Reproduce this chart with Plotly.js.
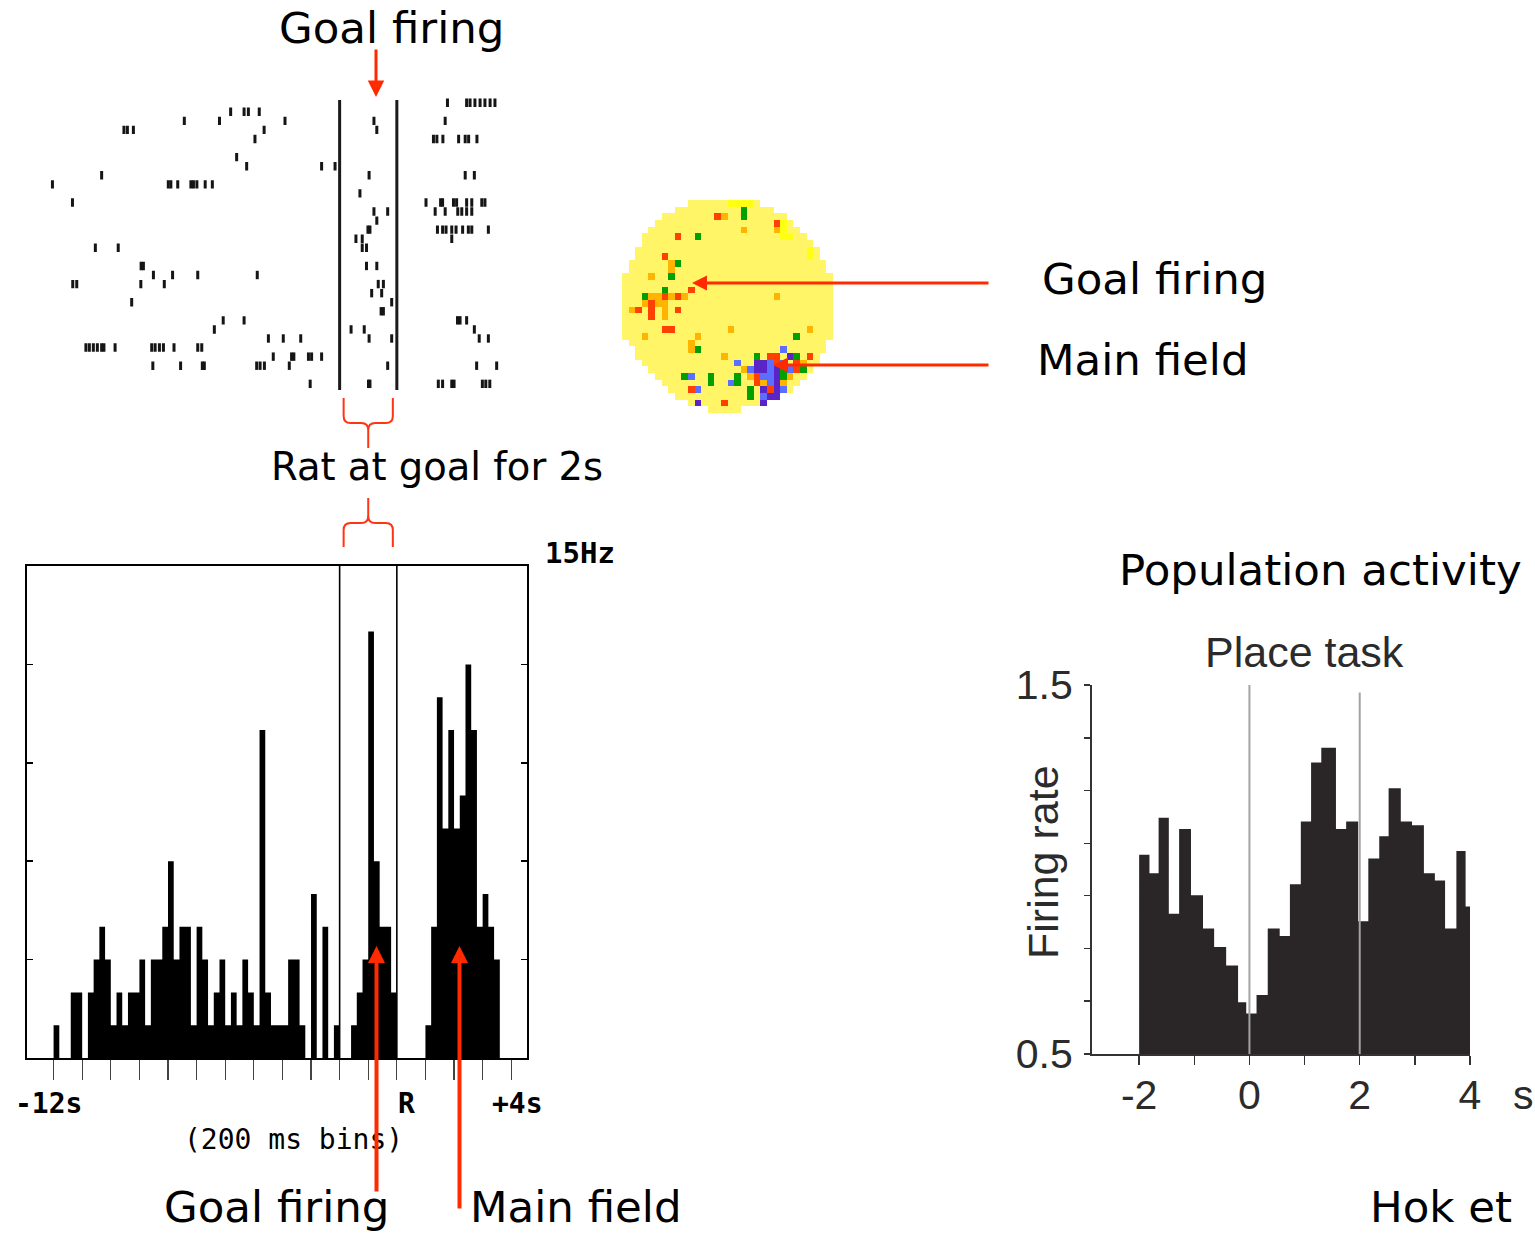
<!DOCTYPE html>
<html>
<head>
<meta charset="utf-8">
<script src="https://cdn.plot.ly/plotly-3.0.1.min.js"></script>
<style>
html,body{margin:0;padding:0;background:#ffffff;}
#chart{width:1535px;height:1237px;}
</style>
</head>
<body>
<div id="chart"></div>
<script>
// ---------------- DATA ----------------
// Goal period (s, relative to R)
const GOAL_START = -2;
const GOAL_END = 0;

// Single-cell peri-event histogram, 200 ms bins starting at -13.0 s (Hz)
const HIST_START = -13.0;
const HIST_BIN = 0.2;
const HIST_RATE = [
  0,0,0,0,0, 1,0,0,2,2, 0,2,3,4,3, 1,2,1,2,2,
  3,1,3,3,4, 6,3,4,4,1, 4,3,1,2,3, 1,2,1,3,2,
  1,10,2,1,1, 1,3,3,1,0, 5,0,4,0,1, 0,0,1,2,3,
  13,6,4,4,2, 0,0,0,0,0, 1,4,11,7,10, 7,8,12,10,4,
  5,4,3,0,0, 0,0,0
];
const HIST_TICKS = [-12,-11,-10,-9,-8,-7,-6,-5,-4,-3,-2,-1,0,1,2,3,4];
const HIST_YTICKS = [3,6,9,12];
const HIST_YMAX = 15;

// Spike raster: one list of spike times (s) per trial (top to bottom)
const RASTER = [
  [1.77,2.44,2.56,2.73,2.91,3.08,3.26,3.43],
  [-5.81,-5.34,-5.19,-4.81],
  [-7.43,-6.20,-3.91,-0.80,1.69],
  [-9.54,-9.42,-9.21,-4.64,-0.70],
  [-4.96,1.28,1.40,1.61,2.16,2.39,2.51,2.80],
  [],
  [-5.60],
  [-5.25,-2.63,-2.16],
  [-10.32,-0.97,2.39,2.71],
  [-12.04,-7.99,-7.90,-7.66,-7.20,-7.11,-6.99,-6.70,-6.45],
  [-1.29],
  [-11.34,1.02,1.53,1.60,1.98,2.09,2.44,2.62,2.97,3.08],
  [-0.80,-0.32,1.34,1.69,2.13,2.27,2.44,2.62],
  [-0.70],
  [-1.01,-0.94,1.42,1.60,1.72,1.92,2.07,2.30,2.50,2.62,3.20],
  [-1.43,-1.21,1.92],
  [-10.54,-9.74,-1.21,-1.06],
  [],
  [-8.94,-8.86,-1.06,-0.70],
  [-8.51,-7.84,-6.96,-4.88],
  [-11.33,-11.19,-8.95,-8.13,-0.65,-0.47],
  [-0.88,-0.53],
  [-9.27,-0.18],
  [-0.55,-0.47],
  [-6.07,-5.34,2.12,2.21,2.44],
  [-6.38,-1.60,-1.14,2.71],
  [-4.49,-3.97,-3.36,-0.97,-0.18,2.88,3.20],
  [-10.87,-10.75,-10.61,-10.47,-10.32,-10.24,-9.85,-8.57,-8.45,-8.30,-8.16,-7.79,-6.96,-6.82],
  [-4.32,-3.68,-3.60,-3.09,-2.98,-2.63],
  [-8.53,-7.56,-6.80,-6.73,-4.90,-4.78,-4.63,-3.76,-0.32,2.79,3.49],
  [],
  [-3.03,-0.99,-0.94,1.45,1.60,1.92,2.00,2.99,3.11,3.25]
];

// Place-field map: arena pixels per row (first / last column), 32 x 32 grid
const ARENA_FIRST = [10,8,6,5,4,3,3,2,2,1,1,0,0,0,0,0,0,0,0,0,0,1,2,2,3,4,5,6,7,8,10,13];
const ARENA_LAST  = [20,22,24,25,26,27,28,29,29,30,30,31,31,31,31,31,31,31,31,31,31,30,30,29,29,28,27,26,25,23,21,17];
// Firing-rate class of non-empty pixels: [row, col, class]
// class 1 = yellow, 2 = orange, 3 = red, 4 = green, 5 = blue, 6 = purple
const FIELD_PIXELS = [
  [0,16,1],[0,17,1],[0,18,1],[0,19,1],
  [1,18,4],[2,18,4],[2,14,3],[2,15,2],
  [3,23,3],[4,23,2],[3,24,1],[4,24,1],[5,24,1],[5,25,1],
  [4,18,2],[5,8,3],[5,11,4],[7,28,1],[8,28,1],
  [8,6,3],[9,8,4],[9,7,2],[10,7,2],[11,7,4],[11,4,2],
  [13,10,3],[13,6,4],
  [14,3,4],[14,4,2],[14,5,2],[14,6,3],[14,7,2],[14,8,3],[14,9,2],
  [15,3,2],[15,4,3],[15,5,2],[15,6,2],
  [16,1,2],[16,2,3],[16,4,3],[16,6,2],[16,8,3],
  [17,4,3],[17,6,2],[19,6,3],[19,7,3],
  [20,3,2],[20,11,2],[21,10,2],[22,10,2],[22,11,4],
  [14,23,2],[19,16,2],[19,28,2],[20,26,4],
  [23,15,2],[23,20,4],[23,22,3],[23,23,3],[22,24,5],[23,25,6],[23,26,4],[23,28,3],
  [24,17,5],[24,20,6],[24,21,6],[24,22,5],[24,23,3],[24,24,5],[24,26,3],[24,27,2],
  [25,18,2],[25,19,5],[25,20,6],[25,21,6],[25,22,5],[25,23,6],[25,24,4],[25,25,5],[25,26,3],[25,27,4],
  [26,9,4],[26,10,5],[26,13,4],[26,17,4],[26,19,2],[26,20,3],[26,21,5],[26,22,5],[26,23,6],[26,24,4],[26,25,2],
  [27,13,4],[27,16,5],[27,17,4],[27,20,3],[27,21,2],[27,22,5],[27,23,6],[27,24,2],
  [28,10,3],[28,11,5],[28,19,4],[28,21,6],[28,22,3],[28,23,6],[28,24,5],
  [29,19,4],[29,21,5],[29,22,6],[29,23,6],
  [30,11,6],[30,15,3],[30,21,6]
];
const FIELD_COLORS = ['#fff566','#ffff14','#ffb400','#ff4000','#00a000','#5b6eff','#5a24c6'];

// Population activity (place task): bin edges (s) and mean firing rate
const POP_EDGES = [-2.000,-1.813,-1.647,-1.462,-1.275,-1.060,-0.842,-0.640,-0.422,-0.206,-0.058,
  0.129,0.332,0.549,0.734,0.932,1.118,1.303,1.569,1.754,1.972,2.156,2.354,2.524,2.745,2.948,
  3.164,3.363,3.548,3.753,3.920,4.000];
const POP_RATE = [1.04,0.99,1.14,0.88,1.11,0.93,0.84,0.79,0.74,0.64,0.61,0.66,0.84,0.82,0.96,
  1.13,1.29,1.33,1.11,1.13,0.86,1.03,1.09,1.22,1.13,1.12,0.99,0.97,0.84,1.05,0.90];
const POP_XTICKS = [-2,-1,0,1,2,3,4];
const POP_XLABELS = ['-2','','0','','2','','4'];
const POP_YTICKS = [0.5,0.643,0.786,0.929,1.071,1.214,1.357,1.5];
const POP_YLABELS = ['0.5','','','','','','','1.5'];
const POP_MARKS = [0, 2];          // task events (s)
const POP_MARK_TOP = [1.5, 1.48];

// ---------------- LAYOUT HELPERS ----------------
const W = 1535, H = 1237;
const PX = x => x / W;
const PY = y => 1 - y / H;
const RED = '#ff2a00';
const SLIDE_FONT = 'DejaVu Sans, Verdana, sans-serif';
const MONO_FONT = 'DejaVu Sans Mono, monospace';
const ARIAL = 'Liberation Sans, Arial, sans-serif';

const HX0 = 26.7, HX1 = 526.7;          // histogram frame (px)
const HY0 = 566, HY1 = 1058;
const HIST_XR = [-12.94, 4.54];
const histPx = t => HX0 + (t - HIST_XR[0]) / (HIST_XR[1] - HIST_XR[0]) * (HX1 - HX0);

// ---------------- TRACES ----------------
const histX = [], histY = [];
HIST_RATE.forEach((v, i) => { histX.push(HIST_START + HIST_BIN * i); histY.push(v); });
histX.push(HIST_START + HIST_BIN * HIST_RATE.length); histY.push(HIST_RATE[HIST_RATE.length - 1]);

const histTrace = {
  type: 'scatter', mode: 'lines', x: histX, y: histY, xaxis: 'x', yaxis: 'y',
  line: {shape: 'hv', width: 0, color: '#000'}, fill: 'tozeroy', fillcolor: '#000',
  hoverinfo: 'skip'
};

const rx = [], ry = [];
RASTER.forEach((trial, k) => trial.forEach(t => { rx.push(t); ry.push(k); }));
const rasterTrace = {
  type: 'scatter', mode: 'markers', x: rx, y: ry, xaxis: 'x2', yaxis: 'y2',
  marker: {symbol: 'line-ns', size: 6, line: {width: 3, color: '#151515'}},
  hoverinfo: 'skip'
};

const z = [];
for (let r = 0; r < ARENA_FIRST.length; r++) {
  const row = new Array(32).fill(null);
  for (let c = ARENA_FIRST[r]; c <= ARENA_LAST[r]; c++) row[c] = 0;
  z.push(row);
}
FIELD_PIXELS.forEach(p => { z[p[0]][p[1]] = p[2]; });
const cs = [];
FIELD_COLORS.forEach((c, k) => { cs.push([k / 7, c]); cs.push([(k + 1) / 7, c]); });
const mapTrace = {
  type: 'heatmap', z: z, xaxis: 'x3', yaxis: 'y3', zmin: -0.5, zmax: 6.5,
  colorscale: cs, showscale: false, zsmooth: false, hoverinfo: 'skip'
};

const popX = POP_EDGES.slice();
const popY = POP_RATE.concat([POP_RATE[POP_RATE.length - 1]]);
const popTrace = {
  type: 'scatter', mode: 'lines', x: popX, y: popY, xaxis: 'x4', yaxis: 'y4',
  line: {shape: 'hv', width: 0, color: '#2a2627'}, fill: 'tozeroy', fillcolor: '#2a2627',
  hoverinfo: 'skip'
};

// ---------------- SHAPES ----------------
const shapes = [];
[GOAL_START, GOAL_END].forEach(t => {
  shapes.push({type: 'line', xref: 'x', yref: 'paper', x0: t, x1: t, y0: PY(HY1), y1: PY(HY0),
    line: {color: '#000', width: 1.6}, layer: 'above'});
  shapes.push({type: 'line', xref: 'x2', yref: 'paper', x0: t, x1: t, y0: PY(390), y1: PY(100),
    line: {color: '#1a1a1a', width: 3}, layer: 'above'});
});
POP_MARKS.forEach((t, i) => {
  shapes.push({type: 'line', xref: 'x4', yref: 'y4', x0: t, x1: t, y0: 0.5, y1: POP_MARK_TOP[i],
    line: {color: '#a3a3a3', width: 2}, layer: 'above'});
});

function bracePath(xl, xr, yEnd, yBar, yTip, r) {
  const s = Math.sign(yBar - yEnd);
  const xm = (xl + xr) / 2;
  const P = (x, y) => PX(x).toFixed(5) + ',' + PY(y).toFixed(5);
  return 'M' + P(xl, yEnd) + ' L' + P(xl, yBar - s * r) + ' Q' + P(xl, yBar) + ' ' + P(xl + r, yBar) +
    ' L' + P(xm - r, yBar) + ' Q' + P(xm, yBar) + ' ' + P(xm, yBar + s * r) + ' L' + P(xm, yTip) +
    ' M' + P(xr, yEnd) + ' L' + P(xr, yBar - s * r) + ' Q' + P(xr, yBar) + ' ' + P(xr - r, yBar) +
    ' L' + P(xm + r, yBar) + ' Q' + P(xm, yBar) + ' ' + P(xm, yBar + s * r);
}
const bxl = histPx(GOAL_START) + 4, bxr = histPx(GOAL_END) - 4;
shapes.push({type: 'path', xref: 'paper', yref: 'paper', path: bracePath(bxl, bxr, 398, 423, 448, 7),
  line: {color: '#ff3412', width: 2}});
shapes.push({type: 'path', xref: 'paper', yref: 'paper', path: bracePath(bxl, bxr, 547, 523, 498, 7),
  line: {color: '#ff3412', width: 2}});

// ---------------- ANNOTATIONS ----------------
function txt(text, x, y, size, family, opts) {
  return Object.assign({xref: 'paper', yref: 'paper', x: PX(x), y: PY(y), text: text, showarrow: false,
    xanchor: 'center', yanchor: 'middle', font: {family: family, size: size, color: '#000'}}, opts || {});
}
function arrow(xTip, yTip, ax, ay, width, size) {
  return {xref: 'paper', yref: 'paper', x: PX(xTip), y: PY(yTip), ax: ax, ay: ay, text: '',
    showarrow: true, arrowhead: 2, arrowsize: size, arrowwidth: width, arrowcolor: RED, standoff: 0};
}
const annotations = [
  txt('Goal firing', 392, 28, 43.5, SLIDE_FONT),
  txt('Rat at goal for 2s', 437, 466, 38.5, SLIDE_FONT),
  txt('Goal firing', 1040, 279, 43.5, SLIDE_FONT, {xanchor: 'left'}),
  txt('Main field', 1035, 360, 43.5, SLIDE_FONT, {xanchor: 'left'}),
  txt('Population activity', 1320, 570, 43.5, SLIDE_FONT),
  txt('Goal firing', 276, 1207, 43.5, SLIDE_FONT),
  txt('Main field', 576, 1207, 43.5, SLIDE_FONT),
  txt('Hok et', 1368, 1207, 43.5, SLIDE_FONT, {xanchor: 'left'}),
  txt('<b>15Hz</b>', 580, 553, 29, MONO_FONT),
  txt('<b>-12s</b>', 49, 1103, 28, MONO_FONT),
  txt('<b>R</b>', 406, 1103, 28, MONO_FONT),
  txt('<b>+4s</b>', 517, 1103, 28, MONO_FONT),
  txt('(200 ms bins)', 293, 1139, 28, MONO_FONT),
  txt('Place task', 1304, 652, 43, ARIAL, {font: {family: ARIAL, size: 43, color: '#2b2b2b'}}),
  txt('Firing rate', 1043, 862, 43, ARIAL, {textangle: -90, font: {family: ARIAL, size: 43, color: '#2b2b2b'}}),
  txt('s', 1523, 1095, 41, ARIAL, {font: {family: ARIAL, size: 41, color: '#2b2b2b'}}),
  arrow(376, 97, 0, -49, 3, 1.1),
  arrow(692, 283, 298, 0, 3, 1.0),
  arrow(773, 365, 217, 0, 3, 1.0),
  arrow(376.5, 946, 0, 247, 4, 0.85),
  arrow(459.5, 946, 0, 264, 4, 0.85)
];

// ---------------- LAYOUT ----------------
const hidden = {visible: false, showgrid: false, zeroline: false, fixedrange: true};
const layout = {
  width: W, height: H, margin: {l: 0, r: 0, t: 0, b: 0},
  paper_bgcolor: '#fff', plot_bgcolor: 'rgba(0,0,0,0)', showlegend: false,
  xaxis: {domain: [PX(HX0), PX(HX1)], range: HIST_XR, anchor: 'y', showline: true, mirror: true,
    linecolor: '#000', linewidth: 2, ticks: 'outside', ticklen: 20, tickwidth: 1.2, tickcolor: '#444',
    tickvals: HIST_TICKS, showticklabels: false, showgrid: false, zeroline: false},
  yaxis: {domain: [PY(HY1), PY(HY0)], range: [0, HIST_YMAX], anchor: 'x', showline: true, mirror: 'ticks',
    linecolor: '#000', linewidth: 2, ticks: 'inside', ticklen: 6, tickwidth: 1.5, tickcolor: '#000',
    tickvals: HIST_YTICKS, showticklabels: false, showgrid: false, zeroline: false},
  xaxis2: Object.assign({domain: [PX(HX0), PX(HX1)], range: HIST_XR, anchor: 'y2'}, hidden),
  yaxis2: Object.assign({domain: [PY(392), PY(95)], range: [31.9, -0.85], anchor: 'x2'}, hidden),
  xaxis3: Object.assign({domain: [PX(622), PX(833)], range: [-0.5, 31.5], anchor: 'y3'}, hidden),
  yaxis3: Object.assign({domain: [PY(413), PY(200)], range: [31.5, -0.5], anchor: 'x3'}, hidden),
  xaxis4: {domain: [PX(1092), PX(1470)], range: [-2.855, 4.0], anchor: 'y4', showline: true,
    linecolor: '#333', linewidth: 2, ticks: 'outside', ticklen: 9, tickwidth: 1.5, tickcolor: '#333',
    tickvals: POP_XTICKS, ticktext: POP_XLABELS, ticklabelstandoff: -5,
    tickfont: {family: ARIAL, size: 41, color: '#2b2b2b'}, showgrid: false, zeroline: false},
  yaxis4: {domain: [PY(1054), PY(685)], range: [0.5, 1.5], anchor: 'x4', showline: true,
    linecolor: '#333', linewidth: 2, ticks: 'outside', ticklen: 6, tickwidth: 1.5, tickcolor: '#333',
    tickvals: POP_YTICKS, ticktext: POP_YLABELS, ticklabelstandoff: 3,
    tickfont: {family: ARIAL, size: 41, color: '#2b2b2b'}, showgrid: false, zeroline: false},
  shapes: shapes,
  annotations: annotations
};

Plotly.newPlot('chart', [histTrace, rasterTrace, mapTrace, popTrace], layout,
  {staticPlot: true, displayModeBar: false});
</script>
</body>
</html>
